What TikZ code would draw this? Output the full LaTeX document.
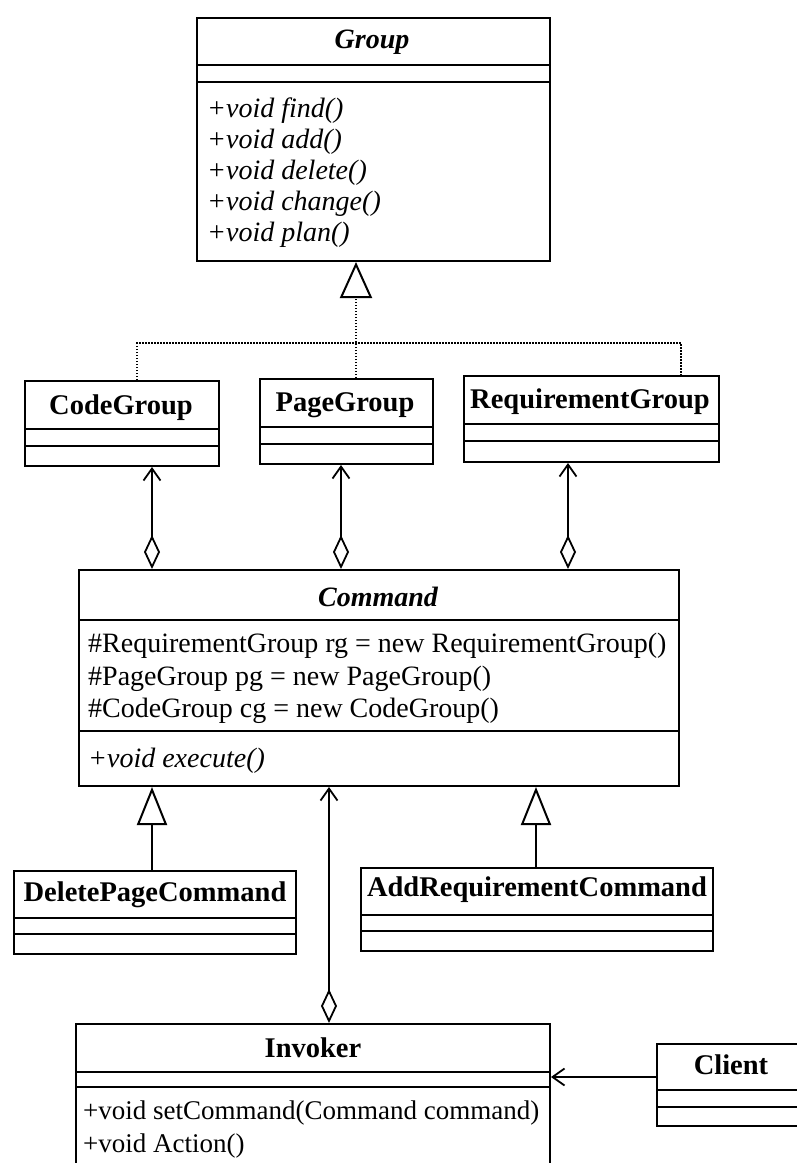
\documentclass[tikz,border=0pt]{standalone}
\usepackage{fontspec}
\setmainfont{Liberation Serif}
\usetikzlibrary{arrows.meta,calc}
\newcommand\umlbox[7]{%
  \node[box, minimum width={#4-#2}, minimum height={#5-#3}, anchor=north west] (#1) at (#2,#3) {};
  \draw[sep] (#2,#6) -- (#4,#6);
  \draw[sep] (#2,#7) -- (#4,#7);}
\tikzset{
 box/.style={draw, line width=2pt, rectangle, inner sep=0pt},
 sep/.style={line width=2pt},
 cls/.style={font=\fontsize{28.5}{32}\selectfont\bfseries, inner sep=0pt},
 abscls/.style={font=\fontsize{28}{32}\selectfont\bfseries\itshape, inner sep=0pt},
 mem/.style={font=\fontsize{28}{32}\selectfont, anchor=base west, inner sep=0pt},
 smem/.style={font=\fontsize{27}{32}\selectfont, anchor=base west, inner sep=0pt},
 imem/.style={font=\fontsize{28}{32}\selectfont\itshape, anchor=base west, inner sep=0pt},
 conn/.style={line width=1.8pt},
 real/.style={line width=1.5pt, dash pattern=on 1.5pt off 1.5pt},
 realtip/.style={line width=1.5pt, dash pattern=on 1.5pt off 1.5pt, arrows={-Triangle[open, length=36pt, width=32pt, line width=2pt]}},
 gen/.style={conn, arrows={-Triangle[open, length=38pt, width=30pt, line width=2pt]}},
 agg/.style={conn, arrows={Diamond[open, length=34pt, width=16pt, line width=1.8pt]-Straight Barb[length=12pt, width=17pt, line width=1.8pt]}},
 assoc/.style={conn, arrows={-Straight Barb[length=12pt, width=17pt, line width=1.8pt]}},
}
\begin{document}
\begin{tikzpicture}[x=1pt,y=-1pt]
\useasboundingbox (0,0) rectangle (797,1163);
\clip (0,0) rectangle (797,1163);
\fill[white] (0,0) rectangle (797,1163);

% Group
\umlbox{grp}{196}{17}{549}{260}{65}{82}
\node[abscls] (grpn) at (372,42) {Group};
\node[imem] (g1) at (207,117) {+void find()};
\node[imem] (g2) at (207,148) {+void add()};
\node[imem] (g3) at (207,179) {+void delete()};
\node[imem] (g4) at (207,210) {+void change()};
\node[imem] (g5) at (207,241) {+void plan()};

% Concrete groups
\umlbox{cg}{24}{380}{218}{465}{429}{446}
\node[cls] (cgn) at (121,408) {CodeGroup};
\umlbox{pg}{259}{378}{432}{463}{427}{444}
\node[cls] (pgn) at (345,405) {PageGroup};
\umlbox{rg}{463}{375}{718}{461}{424}{441}
\node[cls] (rgn) at (590,402) {RequirementGroup};

% realization
\draw[real] ($(cg.north west)+(113,0)$) -- ++(0,-37) -| ($(rg.north west)+(218,0)$);
\draw[realtip] ($(pg.north west)+(97,0)$) -- ($(grp.south west)+(160,0)$);

% Command
\umlbox{cmd}{78}{569}{678}{785}{620}{731}
\node[abscls] (cmdn) at (378,597) {Command};
\node[mem] (c1) at (88,652) {\#RequirementGroup rg = new RequirementGroup()};
\node[mem] (c2) at (88,685) {\#PageGroup pg = new PageGroup()};
\node[mem] (c3) at (88,717) {\#CodeGroup cg = new CodeGroup()};
\node[imem] (c4) at (88,767) {+void execute()};

% aggregations
\draw[agg] ($(cmd.north west)+(74,0)$) -- ($(cg.south west)+(128,0)$);
\draw[agg] ($(cmd.north west)+(263,0)$) -- ($(pg.south west)+(82,0)$);
\draw[agg] ($(cmd.north west)+(490,0)$) -- ($(rg.south west)+(105,0)$);

% Concrete commands
\umlbox{dpc}{13}{870}{295}{953}{918}{934}
\node[cls] (dpcn) at (155,895) {DeletePageCommand};
\umlbox{arc}{360}{867}{712}{950}{915}{931}
\node[cls] (arcn) at (537,890) {AddRequirementCommand};
\draw[gen] ($(dpc.north west)+(139,0)$) -- ($(cmd.south west)+(74,0)$);
\draw[gen] ($(arc.north west)+(176,0)$) -- ($(cmd.south west)+(458,0)$);

% Invoker
\umlbox{inv}{75}{1023}{549}{1200}{1072}{1087}
\node[cls] (invn) at (313,1048) {Invoker};
\node[smem] (i1) at (83,1119) {+void setCommand(Command command)};
\node[smem] (i2) at (83,1152) {+void Action()};
\draw[agg] ($(inv.north west)+(254,0)$) -- ($(cmd.south west)+(251,0)$);

% Client
\umlbox{cli}{656}{1043}{830}{1125}{1090}{1107}
\node[cls] (clin) at (731,1065) {Client};
\draw[assoc] ($(cli.north west)+(0,34)$) -- ($(inv.north east)+(0,54)$);
\end{tikzpicture}
\end{document}
